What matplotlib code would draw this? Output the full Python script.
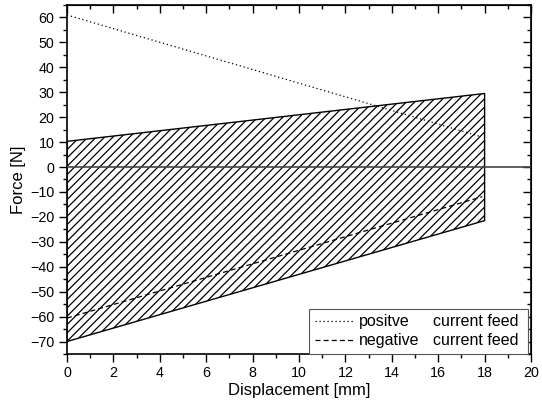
import matplotlib
matplotlib.use("Agg")
import matplotlib.pyplot as plt
from matplotlib.lines import Line2D
from matplotlib.ticker import MultipleLocator

plt.rcParams['font.family'] = ['Liberation Sans', 'DejaVu Sans']
plt.rcParams['hatch.linewidth'] = 0.9

# Data
region_x = [0, 18]
region_upper = [10.3, 29.5]
region_lower = [-70.0, -21.5]

pos_x = [0, 17.8]
pos_force = [61.0, 12.3]

neg_x = [0, 17.9]
neg_force = [-60.6, -11.9]

legend_labels = ["positve", "negative"]
legend_suffix = "current feed"

fig = plt.figure(figsize=(5.42, 4.04), dpi=100)
ax = fig.add_axes([0.1236, 0.1238, 0.9797 - 0.1236, 0.9876 - 0.1238])

ax.fill_between(region_x, region_lower, region_upper, facecolor='none',
                hatch='////', edgecolor='black', linewidth=1.0, zorder=2)
ax.axhline(0, color='#444444', linewidth=1.2, zorder=3)
ax.plot(pos_x, pos_force, color='black', linewidth=0.9,
        linestyle=(0, (1, 2.2)), dash_capstyle='butt', zorder=4)
ax.plot(neg_x, neg_force, color='black', linewidth=0.9,
        linestyle=(0, (4, 2.5)), zorder=4)

ax.set_xlim(0, 20)
ax.set_ylim(-75, 65)
ax.xaxis.set_major_locator(MultipleLocator(2))
ax.xaxis.set_minor_locator(MultipleLocator(1))
ax.set_yticks(range(-70, 61, 10))
ax.yaxis.set_minor_locator(MultipleLocator(5))

for s in ax.spines.values():
    s.set_linewidth(1.2)

ax.tick_params(which='both', direction='out', top=False, right=False,
               labelsize=10.3, width=1.0, pad=3)
ax.tick_params(which='major', length=6)
ax.tick_params(which='minor', length=3)

# mirrored inward ticks on top/right
axt = ax.secondary_xaxis('top')
axt.xaxis.set_major_locator(MultipleLocator(2))
axt.xaxis.set_minor_locator(MultipleLocator(1))
axt.tick_params(which='both', direction='in', labeltop=False, width=1.0)
axt.tick_params(which='major', length=6)
axt.tick_params(which='minor', length=3)
axr = ax.secondary_yaxis('right')
axr.yaxis.set_major_locator(MultipleLocator(10))
axr.yaxis.set_minor_locator(MultipleLocator(5))
axr.tick_params(which='both', direction='in', labelright=False, width=1.0)
axr.tick_params(which='major', length=6)
axr.tick_params(which='minor', length=3)

ax.set_xlabel("Displacement [mm]", fontsize=12, labelpad=2)
ax.set_ylabel("Force [N]", fontsize=12, labelpad=3)

handles = [Line2D([], [], color='black', linewidth=0.9, linestyle=(0, (1, 2.2))),
           Line2D([], [], color='black', linewidth=0.9, linestyle=(0, (4, 2.5)))]
leg = ax.legend(handles, legend_labels, loc='lower left',
                bbox_to_anchor=(0.5216, 0.0, 0.472, 0.129), mode='expand',
                borderaxespad=0, fancybox=False, framealpha=1,
                edgecolor='#555555', fontsize=11.5, handlelength=2.5,
                handletextpad=0.3, borderpad=0.35, labelspacing=0.25)
leg.get_frame().set_linewidth(0.8)

for t in leg.get_texts():
    ax.annotate(legend_suffix, xy=(0.788, 0), xycoords=(ax.transAxes, t),
                ha='left', va='bottom', fontsize=11.5, zorder=10)

fig.savefig("out.png", dpi=100)
